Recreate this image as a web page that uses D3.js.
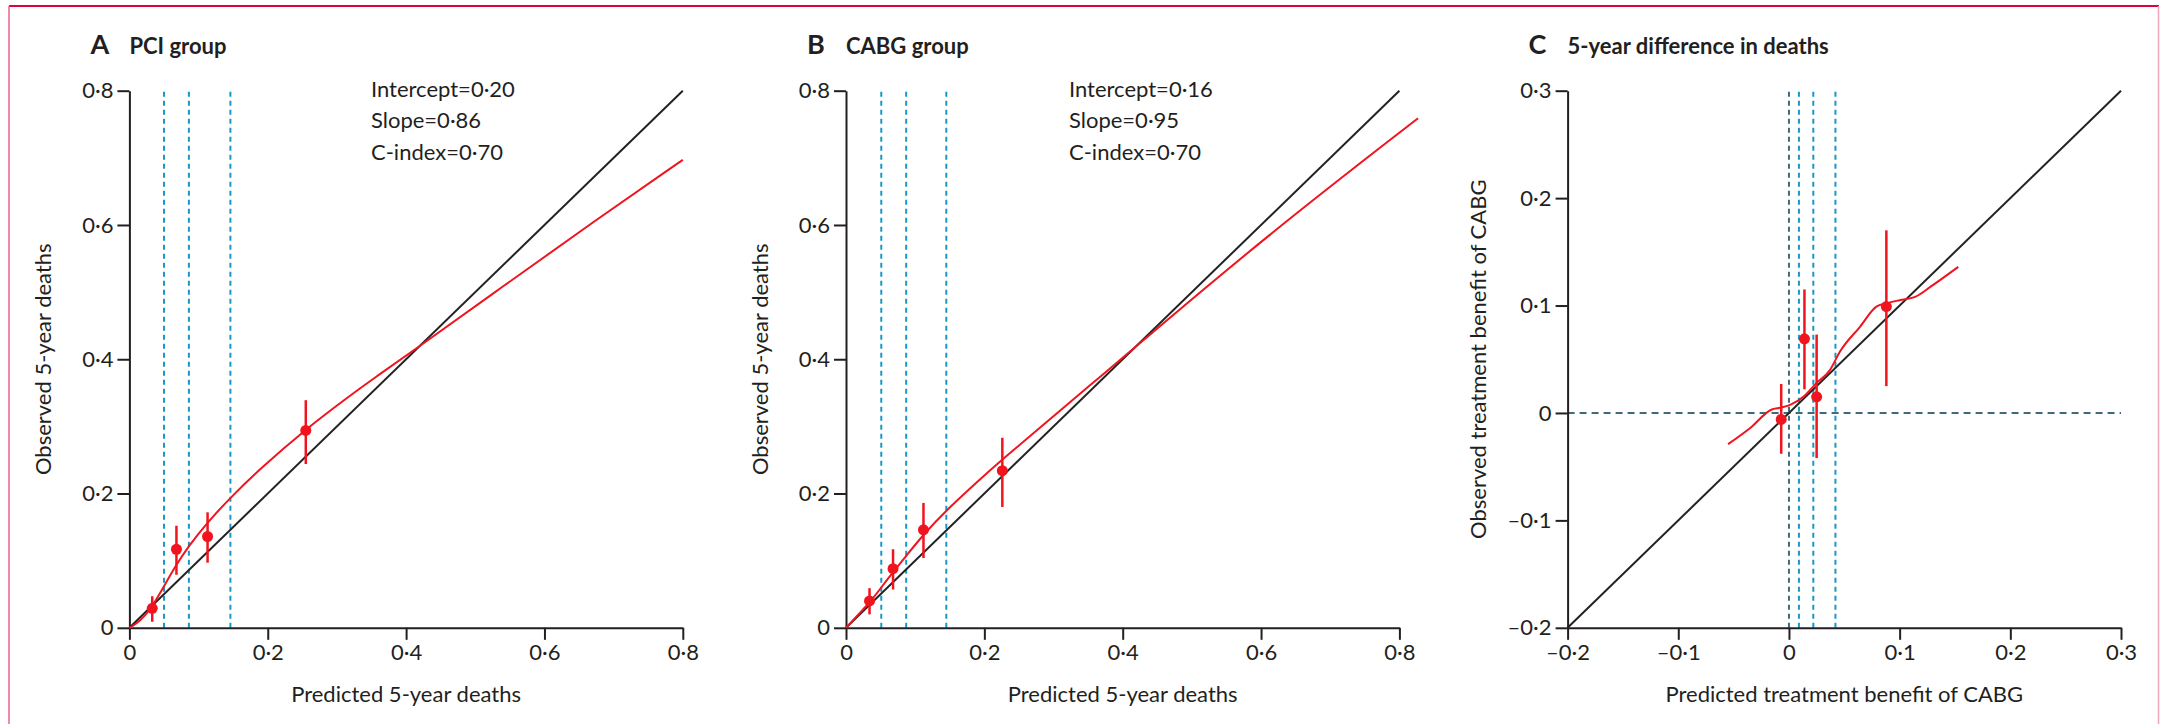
<!DOCTYPE html>
<html>
<head>
<meta charset="utf-8">
<script src="https://cdn.jsdelivr.net/npm/d3@7"></script>
<style>
  html, body { margin: 0; padding: 0; background: #fff; }
  svg text { font-family: Lato, "Noto Sans", sans-serif; fill: #231f20; }
</style>
</head>
<body>
<div id="chart"></div>
<script>
// ---- data ----
const ticksAB = [0, 0.2, 0.4, 0.6, 0.8];
const ticksC = [-0.2, -0.1, 0, 0.1, 0.2, 0.3];

const panelTitles = [
  { letter: "A", text: "PCI group" },
  { letter: "B", text: "CABG group" },
  { letter: "C", text: "5-year difference in deaths" }
];

const pciStats = ["Intercept=0·20", "Slope=0·86", "C-index=0·70"];
const cabgStats = ["Intercept=0·16", "Slope=0·95", "C-index=0·70"];

// quartile cut-offs (vertical dashed lines)
const pciCuts = [0.050, 0.086, 0.146];
const cabgCuts = [0.051, 0.087, 0.145];
const diffCuts = [0.009, 0.022, 0.042];

// grouped observed vs predicted, with 95% CI
const pciPoints = [
  { x: 0.033, y: 0.029, lo: 0.009, hi: 0.047 },
  { x: 0.068, y: 0.117, lo: 0.079, hi: 0.152 },
  { x: 0.113, y: 0.136, lo: 0.097, hi: 0.172 },
  { x: 0.255, y: 0.294, lo: 0.244, hi: 0.339 }
];
const cabgPoints = [
  { x: 0.034, y: 0.040, lo: 0.020, hi: 0.059 },
  { x: 0.068, y: 0.088, lo: 0.057, hi: 0.117 },
  { x: 0.112, y: 0.146, lo: 0.104, hi: 0.186 },
  { x: 0.226, y: 0.234, lo: 0.180, hi: 0.283 }
];
const diffPoints = [
  { x: -0.007, y: -0.006, lo: -0.038, hi: 0.027 },
  { x: 0.014, y: 0.069, lo: 0.022, hi: 0.115 },
  { x: 0.025, y: 0.015, lo: -0.042, hi: 0.073 },
  { x: 0.088, y: 0.099, lo: 0.025, hi: 0.170 }
];

// smoothed calibration curves
const pciCurve = [
  [0, 0], [0.015, 0.009], [0.033, 0.031], [0.049, 0.060], [0.066, 0.091],
  [0.085, 0.121], [0.113, 0.157], [0.145, 0.193], [0.189, 0.237],
  [0.255, 0.296], [0.315, 0.343], [0.358, 0.375], [0.400, 0.405],
  [0.542, 0.510], [0.674, 0.607], [0.800, 0.697]
];
const cabgCurve = [
  [0, 0], [0.034, 0.037], [0.051, 0.060], [0.068, 0.083], [0.087, 0.107],
  [0.112, 0.139], [0.145, 0.175], [0.188, 0.216], [0.226, 0.251],
  [0.285, 0.302], [0.364, 0.371], [0.401, 0.403], [0.608, 0.584],
  [0.827, 0.759]
];
const diffCurve = [
  [-0.055, -0.029], [-0.035, -0.014], [-0.016, 0.003], [-0.007, 0.005],
  [0.002, 0.008], [0.013, 0.015], [0.025, 0.028], [0.037, 0.040],
  [0.046, 0.057], [0.064, 0.080], [0.079, 0.099], [0.088, 0.102],
  [0.100, 0.105], [0.114, 0.108], [0.130, 0.119], [0.153, 0.136]
];

// ---- drawing ----
const W = 2160, H = 724;
const red = "#f0141e", blue = "#1798c6", darkDash = "#3f6b7a", ink = "#231f20";

const svg = d3.select("#chart").append("svg")
  .attr("width", W)
  .attr("height", H);

// page frame
svg.append("line").attr("x1", 9).attr("x2", 2159).attr("y1", 6).attr("y2", 6)
  .attr("stroke", "#e2003c").attr("stroke-width", 2);
svg.append("line").attr("x1", 9).attr("x2", 9).attr("y1", 6).attr("y2", H)
  .attr("stroke", "#e8668a").attr("stroke-width", 1.5);
svg.append("line").attr("x1", 2158.5).attr("x2", 2158.5).attr("y1", 6).attr("y2", H)
  .attr("stroke", "#f2a6ba").attr("stroke-width", 1.5);

const fmt = d => d === 0 ? "0" : (d < 0 ? "\u2013" : "") + Math.abs(d).toFixed(1).replace(".", "·");

function drawPanel(opts) {
  const x = d3.scaleLinear().domain(opts.domain).range([opts.left, opts.left + 553.4]);
  const y = d3.scaleLinear().domain(opts.domain).range([627.8, 90.7]);
  const g = svg.append("g");

  // title
  g.append("text")
    .attr("x", opts.left - 39)
    .attr("y", 54)
    .style("font-size", "27px")
    .style("font-weight", "bold")
    .text(opts.title.letter);
  g.append("text")
    .attr("x", opts.left)
    .attr("y", 54)
    .style("font-size", "22px")
    .style("font-weight", "bold")
    .text(opts.title.text);

  // dashed reference lines
  if (opts.zeroLines) {
    g.append("line")
      .attr("x1", x(0)).attr("x2", x(0))
      .attr("y1", y(opts.domain[0])).attr("y2", y(opts.domain[1]))
      .attr("stroke", darkDash).attr("stroke-width", 2).attr("stroke-dasharray", "5,4");
    g.append("line")
      .attr("x1", x(opts.domain[0])).attr("x2", x(opts.domain[1]))
      .attr("y1", y(0)).attr("y2", y(0))
      .attr("stroke", darkDash).attr("stroke-width", 2).attr("stroke-dasharray", "7,5");
  }
  g.selectAll(".cut")
    .data(opts.cuts)
    .enter()
    .append("line")
    .attr("x1", d => x(d)).attr("x2", d => x(d))
    .attr("y1", y(opts.domain[0])).attr("y2", y(opts.domain[1]))
    .attr("stroke", blue).attr("stroke-width", 2).attr("stroke-dasharray", "5,4");

  // identity line
  g.append("line")
    .attr("x1", x(opts.domain[0])).attr("y1", y(opts.domain[0]))
    .attr("x2", x(opts.domain[1])).attr("y2", y(opts.domain[1]))
    .attr("stroke", "#222").attr("stroke-width", 2);

  // axes
  const xAxis = g.append("g")
    .attr("transform", `translate(0,${y(opts.domain[0])})`)
    .call(d3.axisBottom(x).tickValues(opts.ticks).tickFormat(fmt).tickSize(12).tickSizeOuter(0).tickPadding(5));
  const yAxis = g.append("g")
    .attr("transform", `translate(${x(opts.domain[0])},0)`)
    .call(d3.axisLeft(y).tickValues(opts.ticks).tickFormat(fmt).tickSize(12).tickSizeOuter(0).tickPadding(4));
  [xAxis, yAxis].forEach(a => {
    a.select(".domain").attr("stroke", ink).attr("stroke-width", 2);
    a.selectAll(".tick line").attr("stroke", ink).attr("stroke-width", 2);
    a.selectAll(".tick text")
      .style("font-family", "Lato, 'Noto Sans', sans-serif")
      .style("font-size", "22px")
      .attr("fill", ink);
  });

  // smoothed curve
  g.append("path")
    .datum(opts.curve)
    .attr("fill", "none")
    .attr("stroke", red)
    .attr("stroke-width", 2)
    .attr("d", d3.line().x(d => x(d[0])).y(d => y(d[1])).curve(opts.smooth || d3.curveMonotoneX));

  // points with CIs
  g.selectAll(".ci")
    .data(opts.points)
    .enter()
    .append("line")
    .attr("x1", d => x(d.x)).attr("x2", d => x(d.x))
    .attr("y1", d => y(d.lo)).attr("y2", d => y(d.hi))
    .attr("stroke", red).attr("stroke-width", 2.5);
  g.selectAll(".pt")
    .data(opts.points)
    .enter()
    .append("circle")
    .attr("cx", d => x(d.x))
    .attr("cy", d => y(d.y))
    .attr("r", 5.5)
    .attr("fill", red);

  // stats text
  if (opts.stats) {
    g.selectAll(".stat")
      .data(opts.stats)
      .enter()
      .append("text")
      .attr("x", opts.left + opts.statsDx)
      .attr("y", (d, i) => 96.7 + i * 31.7)
      .style("font-size", "22px")
      .text(d => d);
  }

  // axis labels
  g.append("text")
    .attr("x", (x.range()[0] + x.range()[1]) / 2)
    .attr("y", 701.7)
    .attr("text-anchor", "middle")
    .style("font-size", "22px")
    .text(opts.xLabel);
  g.append("text")
    .attr("transform", "rotate(-90)")
    .attr("x", -(627.8 + 90.7) / 2)
    .attr("y", opts.left - opts.yLabelDx)
    .attr("text-anchor", "middle")
    .style("font-size", "22px")
    .text(opts.yLabel);
}

drawPanel({
  left: 129.4, domain: [0, 0.8], ticks: ticksAB, title: panelTitles[0],
  cuts: pciCuts, points: pciPoints, curve: pciCurve, smooth: d3.curveBasis,
  stats: pciStats, statsDx: 241.6,
  xLabel: "Predicted 5-year deaths", yLabel: "Observed 5-year deaths", yLabelDx: 78
});

drawPanel({
  left: 846, domain: [0, 0.8], ticks: ticksAB, title: panelTitles[1],
  cuts: cabgCuts, points: cabgPoints, curve: cabgCurve, smooth: d3.curveBasis,
  stats: cabgStats, statsDx: 223,
  xLabel: "Predicted 5-year deaths", yLabel: "Observed 5-year deaths", yLabelDx: 78
});

drawPanel({
  left: 1567.6, domain: [-0.2, 0.3], ticks: ticksC, title: panelTitles[2],
  cuts: diffCuts, points: diffPoints, curve: diffCurve, zeroLines: true,
  xLabel: "Predicted treatment benefit of CABG", yLabel: "Observed treatment benefit of CABG", yLabelDx: 82
});
</script>
</body>
</html>
